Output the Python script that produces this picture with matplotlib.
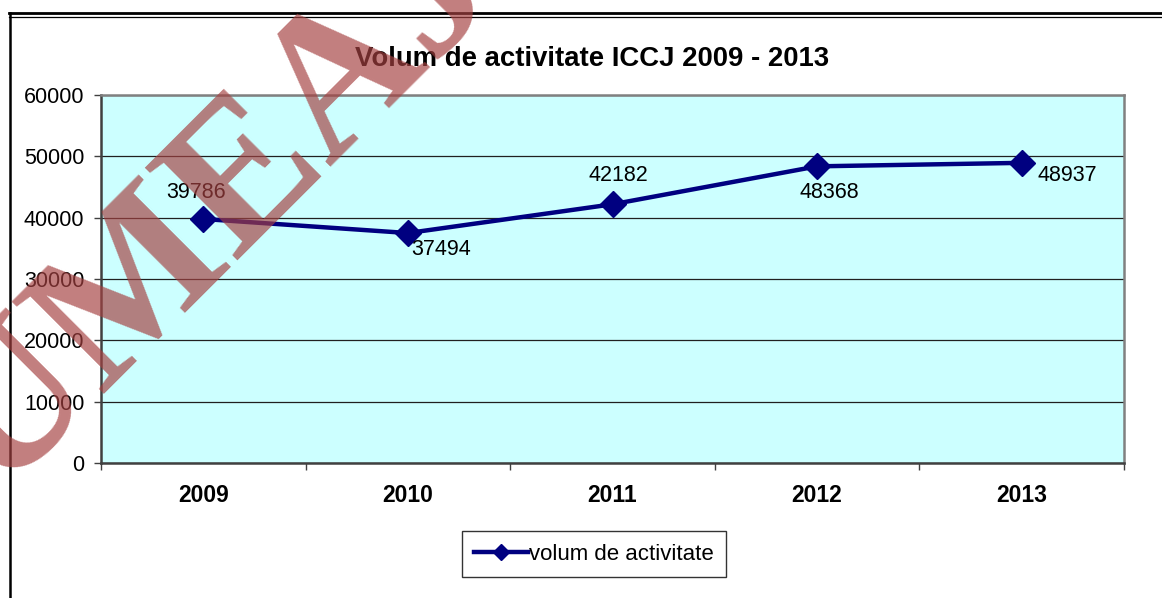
import matplotlib.pyplot as plt
from matplotlib.lines import Line2D

# data
years = ["2009", "2010", "2011", "2012", "2013"]
volum = [39786, 37494, 42182, 48368, 48937]
series_name = "volum de activitate"
title = "Volum de activitate ICCJ 2009 - 2013"
yticks = [0, 10000, 20000, 30000, 40000, 50000, 60000]

# label offsets in points (dx, dy), Excel-style placement
label_offsets = [(-5, 19), (24, -12), (4, 21), (9, -19), (33, -9)]

NAVY = "#000080"
SANS = "Liberation Sans"

W, H = 1162, 598
fig = plt.figure(figsize=(W / 100, H / 100), dpi=100)
ax = fig.add_axes([101 / W, 1 - 463 / H, (1124 - 101) / W, (463 - 95) / H])
ax.set_facecolor("#CCFFFF")

x = list(range(len(years)))
ax.plot(x, volum, color=NAVY, lw=3.2, marker="D", ms=13, mfc=NAVY, mec=NAVY,
        label=series_name, zorder=3)
for xi, v, (dx, dy) in zip(x, volum, label_offsets):
    ax.annotate(str(v), (xi, v), xytext=(dx, dy), textcoords="offset points",
                ha="center", va="center", fontsize=15.5, family=SANS, zorder=4)

ax.set_xlim(-0.5, len(years) - 0.5)
ax.set_ylim(0, 60000)
ax.set_yticks(yticks)
ax.set_yticklabels([str(t) for t in yticks], family=SANS, fontsize=15.5)
ax.set_xticks(x)
ax.set_xticklabels(years, family=SANS, fontsize=16.5, fontweight="bold")
ax.set_xticks([i - 0.5 for i in range(len(years) + 1)], minor=True)
ax.tick_params(axis="x", which="major", length=0, pad=15)
ax.tick_params(axis="x", which="minor", length=5, width=1, color="#404040", direction="out")
ax.tick_params(axis="y", length=5, width=1, color="#404040", pad=7)
ax.yaxis.grid(True, color="#202020", lw=0.9)
ax.set_axisbelow(True)
for side in ["top", "right"]:
    ax.spines[side].set_color("#808080")
    ax.spines[side].set_linewidth(1.8)
for side in ["left", "bottom"]:
    ax.spines[side].set_color("#404040")
    ax.spines[side].set_linewidth(1.8)

fig.text(592 / W, 1 - 59 / H, title, ha="center", va="center",
         fontsize=19.8, fontweight="bold", family=SANS)

leg = fig.legend(loc="center", bbox_to_anchor=(594 / W, 1 - 554 / H),
                 prop={"family": SANS, "size": 16}, frameon=True, fancybox=False,
                 handlelength=2.4, handletextpad=0.05, borderpad=0.55, markerscale=0.6)
leg.get_frame().set_edgecolor("black")
leg.get_frame().set_linewidth(1.0)

# outer chart frame (double top line, left edge)
fig.add_artist(Line2D([9 / W, 1], [1 - 13 / H] * 2, transform=fig.transFigure, color="black", lw=2))
fig.add_artist(Line2D([9 / W, 1], [1 - 16.5 / H] * 2, transform=fig.transFigure, color="black", lw=0.9))
fig.add_artist(Line2D([10 / W] * 2, [0, 1 - 12.5 / H], transform=fig.transFigure, color="black", lw=1.8))

# watermark
fig.text(-95 / W, 1 - 590 / H, "LUMEAJUSTITIEI", rotation=45, rotation_mode="anchor",
         ha="left", va="baseline", fontsize=144, family="Liberation Serif",
         fontweight="bold", color="#a54141", alpha=0.68, zorder=10)

fig.savefig("out.png", dpi=100)
